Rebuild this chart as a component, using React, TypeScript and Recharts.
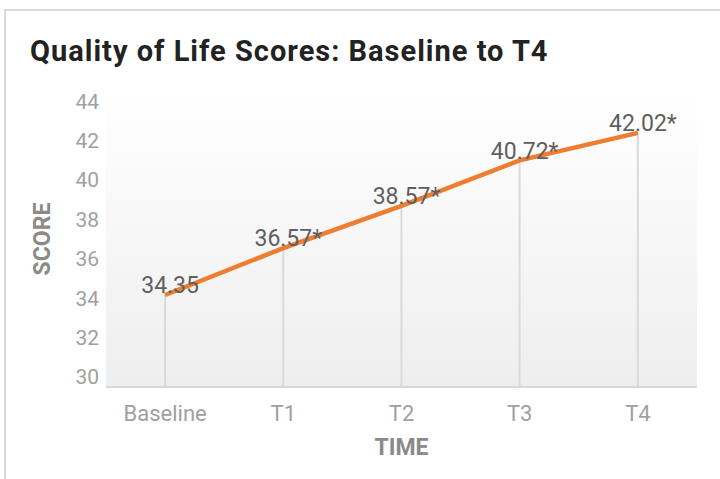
import { Bar, CartesianGrid, ComposedChart, LabelList, Line, XAxis, YAxis } from 'recharts';

const categories = ['Baseline', 'T1', 'T2', 'T3', 'T4'];
const scores = [34.35, 36.57, 38.57, 40.72, 42.02];
const scoreLabels = ['34.35', '36.57*', '38.57*', '40.72*', '42.02*'];
const yTicks = [30, 32, 34, 36, 38, 40, 42, 44];

const data = categories.map((time, i) => ({ time, score: scores[i] }));

const tickFont = 'Roboto, "Noto Sans", sans-serif';

// excel spreads the value labels a bit tighter than the plot itself
const YTick = (props: any) => {
  const { x, y, payload } = props;
  const mid = 239;
  const ty = mid + (y - mid) * 0.932;
  return (
    <text x={x} y={ty} dy="0.36em" textAnchor="end" fill="#a0a0a0" fontSize={21} fontFamily={tickFont}>
      {payload.value}
    </text>
  );
};

const ValueLabel = (props: any) => {
  const { x, y, index } = props;
  return (
    <text x={x + 5} y={y - 10} dy="0.36em" textAnchor="middle" fill="#5f5f5f" fontSize={23} fontFamily={tickFont}>
      {scoreLabels[index]}
    </text>
  );
};

export default function App() {
  return (
    <div style={{ position: 'absolute', left: 0, top: 0, width: 720, height: 479, overflow: 'hidden', background: '#fff' }}>
      <div
        style={{
          position: 'absolute',
          left: 4,
          top: 9,
          width: 800,
          height: 600,
          border: '2px solid #d9d9d9',
        }}
      />
      <div
        style={{
          position: 'absolute',
          left: 30,
          top: 37,
          fontFamily: 'Roboto, sans-serif',
          fontWeight: 700,
          fontSize: 29,
          lineHeight: '29px',
          letterSpacing: 1,
          color: '#222',
          whiteSpace: 'nowrap',
        }}
      >
        Quality of Life Scores: Baseline to T4
      </div>
      <div style={{ position: 'absolute', left: 0, top: 0 }}>
        <ComposedChart width={720} height={479} data={data} margin={{ top: 91, right: 23, bottom: 22, left: 30 }}>
          <defs>
            <linearGradient id="plotBg" x1="0" y1="0" x2="0" y2="1">
              <stop offset="0%" stopColor="#ffffff" />
              <stop offset="100%" stopColor="#eeeeee" />
            </linearGradient>
          </defs>
          <CartesianGrid horizontal={false} vertical={false} fill="url(#plotBg)" />
          <XAxis
            dataKey="time"
            height={70}
            tickLine={false}
            tickSize={0}
            tickMargin={18}
            axisLine={{ stroke: '#d9d9d9', strokeWidth: 2 }}
            tick={{ fill: '#a0a0a0', fontSize: 22, fontFamily: tickFont }}
            label={{
              value: 'TIME',
              position: 'insideBottom',
              offset: 2,
              fill: '#8a8a8a',
              fontSize: 23,
              fontWeight: 700,
              fontFamily: tickFont,
            }}
          />
          <YAxis
            width={76}
            domain={[30, 44]}
            ticks={yTicks}
            interval={0}
            tickLine={false}
            axisLine={false}
            tickSize={0}
            tickMargin={7}
            tick={<YTick />}
            label={{
              value: 'SCORE',
              angle: -90,
              position: 'insideLeft',
              offset: 12,
              textAnchor: 'middle',
              fill: '#8a8a8a',
              fontSize: 23,
              fontWeight: 700,
              fontFamily: tickFont,
            }}
          />
          <Bar dataKey="score" barSize={2} fill="#dadada" isAnimationActive={false} />
          <Line
            dataKey="score"
            type="linear"
            stroke="#ed7d31"
            strokeWidth={4.5}
            dot={false}
            activeDot={false}
            isAnimationActive={false}
          >
            <LabelList dataKey="score" content={<ValueLabel />} />
          </Line>
        </ComposedChart>
      </div>
    </div>
  );
}
